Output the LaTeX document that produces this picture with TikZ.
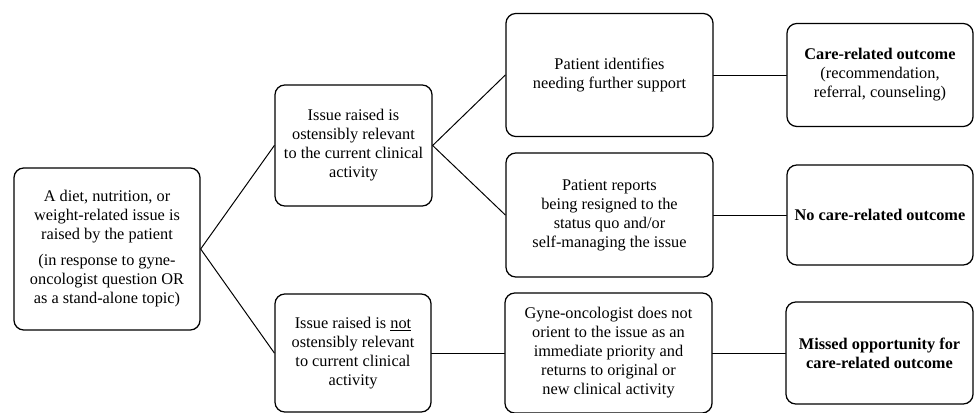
\documentclass[tikz,border=0pt]{standalone}
\usepackage{fontspec}
\setmainfont{Liberation Serif}
\tikzset{
    lab/.style={
        font=\fontsize{11.6}{13.5}\selectfont
    }
}

\begin{document}
\begin{tikzpicture}[x=0.025cm,y=-0.025cm, line cap=round, line join=round]

\tikzset{
  box/.style={lab, draw=black, line width=0.9pt, rounded corners=7pt, align=center, inner sep=2pt},
  link/.style={draw=black, line width=0.7pt},
}

\useasboundingbox (0,0) rectangle (974,413);

% first column
\node[box, minimum width=4.65cm, minimum height=4.05cm] (src) at (107,249)
  {A diet, nutrition, or\\ weight-related issue is\\ raised by the patient\\[5pt]
   (in response to gyne-\\ oncologist question OR\\ as a stand-alone topic)};

% second column
\node[box, minimum width=3.925cm, minimum height=3.025cm] (rel) at (353.5,145.5)
  {Issue raised is\\ ostensibly relevant\\ to the current clinical\\ activity};
\node[box, minimum width=3.9cm, minimum height=2.95cm] (nrel) at (353,353)
  {Issue raised is \underline{not}\\ ostensibly relevant\\ to current clinical\\ activity};

% third column
\node[box, minimum width=5.175cm, minimum height=3.075cm] (sup) at (609.5,75)
  {Patient identifies\\ needing further support};
\node[box, minimum width=5.175cm, minimum height=3.1cm] (res) at (609.5,215)
  {Patient reports\\ being resigned to the\\ status quo and/or\\ self-managing the issue};
\node[box, minimum width=5.175cm, minimum height=3.0cm] (ret) at (608.5,353)
  {Gyne-oncologist does not\\ orient to the issue as an\\ immediate priority and\\ returns to original or\\ new clinical activity};

% outcomes
\node[box, minimum width=4.65cm, minimum height=2.575cm] (care) at (880,75)
  {\textbf{Care-related outcome}\\ (recommendation,\\ referral, counseling)};
\node[box, minimum width=4.65cm, minimum height=2.5cm] (none) at (880,215)
  {\textbf{No care-related outcome}};
\node[box, minimum width=4.675cm, minimum height=2.55cm] (miss) at (879.5,353)
  {\textbf{Missed opportunity for}\\ \textbf{care-related outcome}};

% connectors
\draw[link] (src.east) -- (rel.west);
\draw[link] (src.east) -- (nrel.west);
\draw[link] (rel.east) -- (sup.west);
\draw[link] (rel.east) -- (res.west);
\draw[link] (nrel.east) -- (ret.west);
\draw[link] (sup.east) -- (care.west);
\draw[link] (res.east) -- (none.west);
\draw[link] (ret.east) -- (miss.west);

\end{tikzpicture}
\end{document}
